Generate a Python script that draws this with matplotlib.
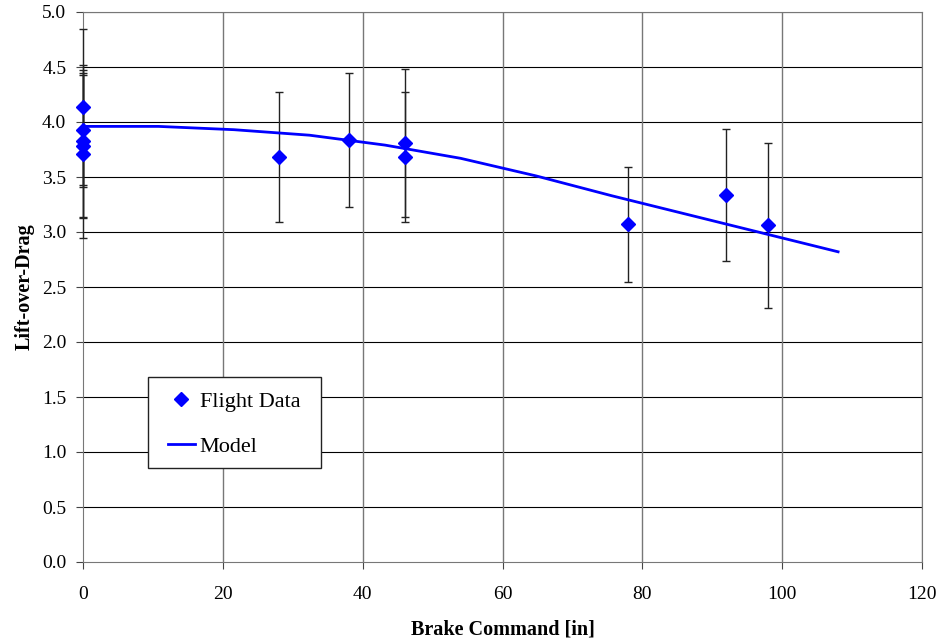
import numpy as np
import matplotlib.pyplot as plt
from matplotlib.patches import Rectangle

# flight data (brake command, L/D, error)
brake = [0, 0, 0, 0, 0, 28, 38, 46, 46, 78, 92, 98]
lod = [4.14, 3.93, 3.83, 3.78, 3.71, 3.685, 3.84, 3.81, 3.68, 3.07, 3.34, 3.06]
lod_err = [0.71, 0.52, 0.69, 0.65, 0.76, 0.59, 0.61, 0.67, 0.59, 0.52, 0.60, 0.75]

# model curve
model_x = [0, 10.8, 21.6, 32.4, 43.2, 54, 64.8, 75.6, 86.4, 97.2, 108]
model_y = [3.96, 3.96, 3.93, 3.88, 3.79, 3.67, 3.51, 3.33, 3.16, 2.99, 2.82]

plt.rcParams['font.family'] = ['Liberation Serif', 'DejaVu Serif']

fig = plt.figure(figsize=(9.41, 6.43), dpi=100)
ax = fig.add_axes([83/941, 1 - 562/643, 839/941, 550/643])

eb = ax.errorbar(brake, lod, yerr=lod_err, fmt='none', ecolor='#222222',
                 elinewidth=1.0, capsize=2.6, capthick=1.0, zorder=3)
for art in eb.lines[1] + eb.lines[2]:
    art.set_clip_on(False)
ax.plot(brake, lod, linestyle='none', marker='D', color='#0000FF',
        markersize=7.5, label='Flight Data', zorder=4, clip_on=False)
ax.plot(model_x, model_y, color='#0000FF', linewidth=2, label='Model', zorder=3)

ax.set_xlim(0, 120)
ax.set_ylim(0, 5)
ax.set_xticks(np.arange(0, 121, 20))
ax.set_yticks(np.arange(0, 5.01, 0.5))
ax.set_yticklabels([f'{v:.1f}' for v in np.arange(0, 5.01, 0.5)])
ax.tick_params(direction='out', length=5, labelsize=14, color='#444444')
ax.tick_params(axis='x', pad=12)
ax.tick_params(axis='y', pad=7)

for v in np.arange(0.5, 5.01, 0.5):
    ax.axhline(v, color='black', linewidth=0.8, zorder=1)
for v in np.arange(20, 121, 20):
    ax.axvline(v, color='#777777', linewidth=1.0, zorder=1)
for s in ax.spines.values():
    s.set_color('#777777')

ax.set_xlabel('Brake Command [in]', fontsize=14.5, fontweight='bold', labelpad=12.5)
ax.set_ylabel('Lift-over-Drag', fontsize=14.5, fontweight='bold', labelpad=5)

# legend box drawn separately so the padding matches
ax.add_patch(Rectangle((0.0775, 0.171), 0.206, 0.165, transform=ax.transAxes,
                       facecolor='white', edgecolor='#222222', linewidth=1.0,
                       zorder=4.5))
leg = ax.legend(loc='center left', bbox_to_anchor=(0.1013, 0.251),
                borderaxespad=0, borderpad=0, frameon=False, fontsize=16,
                handlelength=1.2, handletextpad=0.22, labelspacing=1.08)
leg.set_zorder(5)

fig.savefig('out.png', dpi=100)
